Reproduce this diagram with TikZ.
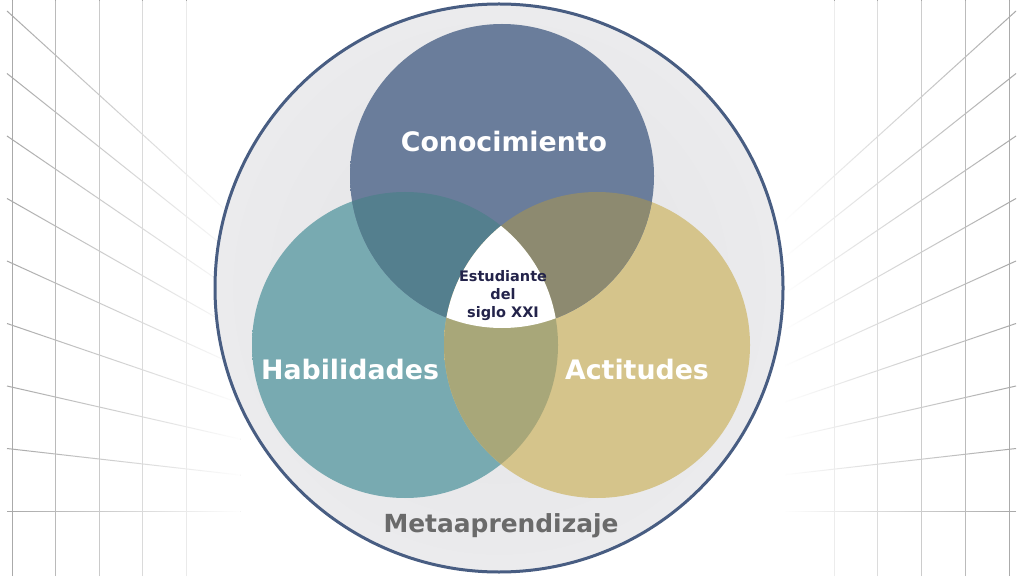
\documentclass[tikz,border=0pt]{standalone}
\usepackage{fontspec}
\setmainfont{DejaVu Sans}
\usetikzlibrary{fadings}
\definecolor{gridgray}{HTML}{A6A6A6}
\definecolor{ringblue}{HTML}{485D82}
\definecolor{ringfill}{HTML}{E3E3E5}
\definecolor{ringedge}{HTML}{EBEBED}
\definecolor{slateblue}{HTML}{6A7D9B}
\definecolor{slaterim}{HTML}{8797B0}
\definecolor{tealblue}{HTML}{78AAB1}
\definecolor{tealrim}{HTML}{98C3C7}
\definecolor{sand}{HTML}{D5C48B}
\definecolor{sandrim}{HTML}{E2D4A2}
\definecolor{duskteal}{HTML}{547F8E}
\definecolor{duskolive}{HTML}{8D8A70}
\definecolor{olive}{HTML}{A8A779}
\definecolor{navytext}{HTML}{23234A}
\definecolor{graytext}{HTML}{6A6A6A}
\tikzfading[name=gridfadeleft, left color=transparent!100, right color=transparent!0]
\tikzfading[name=gridfaderight, left color=transparent!0, right color=transparent!100]
\pgfdeclareradialshading{kshade}{\pgfpoint{0bp}{0bp}}{color(0bp)=(slateblue); color(44bp)=(slateblue); color(50bp)=(slaterim)}
\pgfdeclareradialshading{hshade}{\pgfpoint{4bp}{-4bp}}{color(0bp)=(tealblue); color(38bp)=(tealblue); color(50bp)=(tealrim)}
\pgfdeclareradialshading{ashade}{\pgfpoint{-4bp}{-4bp}}{color(0bp)=(sand); color(38bp)=(sand); color(50bp)=(sandrim)}

\begin{document}
\begin{tikzpicture}[x=1pt,y=1pt,
 gridline/.style={draw=gridgray,line width=1},
 biglabel/.style={font=\bfseries\fontsize{26.8}{30}\selectfont,text=white,inner sep=0pt},
 centerlabel/.style={font=\bfseries\fontsize{14.5}{18}\selectfont,text=navytext,align=center,inner sep=0pt},
 ringlabel/.style={font=\bfseries\fontsize{24.9}{28}\selectfont,text=graytext,inner sep=0pt}]
\useasboundingbox (0,0) rectangle (1024,576);
\fill[white] (0,0) rectangle (1024,576);
% background grid, both sides
\coordinate (vpl) at (556,65);
\coordinate (vpr) at (465,65);
\begin{scope}
\clip (0,0) rectangle (240,576);
\foreach \i in {0,...,8} \draw[gridline] (7,{565-62.5*\i}) -- (vpl);
\foreach \j in {0,...,4} \draw[gridline] ({12+43.5*\j},0) -- ++(0,576);
\end{scope}
\begin{scope}
\clip (784,0) rectangle (1024,576);
\foreach \i in {0,...,8} \draw[gridline] (1016,{565-62.5*\i}) -- (vpr);
\foreach \j in {0,...,4} \draw[gridline] ({1009-43.75*\j},0) -- ++(0,576);
\end{scope}
\fill[white,path fading=gridfadeleft] (0,0) rectangle (240,576);
\fill[white,path fading=gridfaderight] (784,0) rectangle (1024,576);
% outer ring
\coordinate (rc) at (499,288);
\shade[inner color=ringfill,outer color=ringedge] (rc) circle[radius=284];
\draw[ringblue,line width=3] (rc) circle[radius=284];
% three circles
\coordinate (kc) at (502,400);
\coordinate (hc) at (405,231);
\coordinate (ac) at (597,231);
\shade[shading=hshade] (hc) circle[radius=153];
\shade[shading=ashade] (ac) circle[radius=153];
\shade[shading=kshade] (kc) circle[radius=152];
\begin{scope}
\clip (kc) circle[radius=152];
\fill[duskteal] (hc) circle[radius=153];
\fill[duskolive] (ac) circle[radius=153];
\end{scope}
\begin{scope}
\clip (hc) circle[radius=153];
\fill[olive] (ac) circle[radius=153];
\end{scope}
\begin{scope}
\clip (kc) circle[radius=152];
\clip (hc) circle[radius=153];
\fill[white] (ac) circle[radius=153];
\end{scope}
% labels
\node[biglabel] (kno) at (504,434) {Conocimiento};
\node[biglabel] (hab) at (350,206) {Habilidades};
\node[biglabel] (act) at (637,206) {Actitudes};
\node[centerlabel] (est) at (503,280) {Estudiante\\del\\siglo XXI};
\node[ringlabel,anchor=base] (meta) at (501,44) {Metaaprendizaje};
\end{tikzpicture}
\end{document}
